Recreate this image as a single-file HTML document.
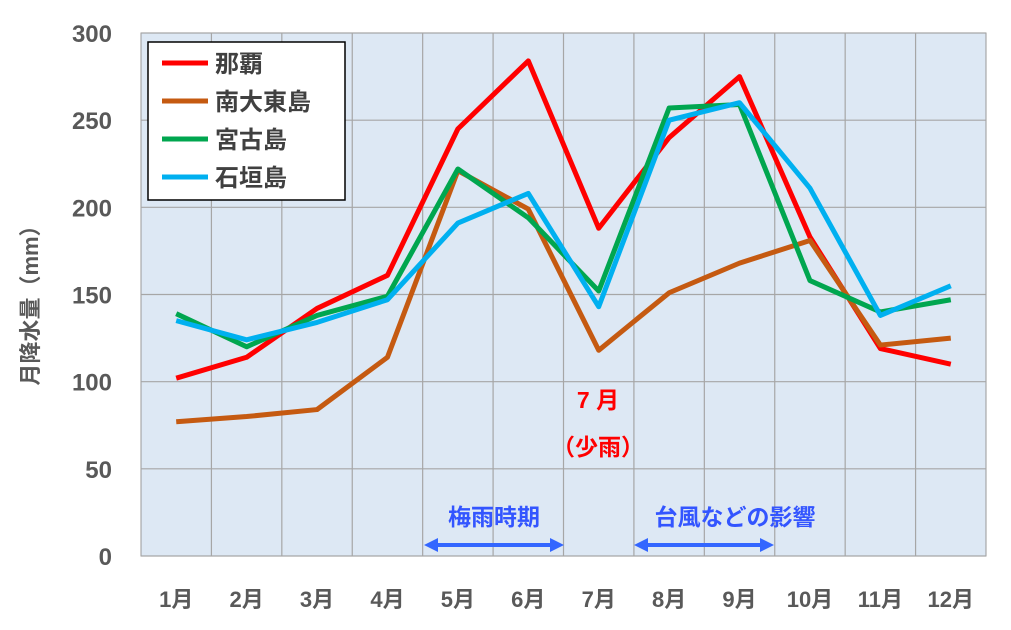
<!DOCTYPE html>
<html><head><meta charset="utf-8"><style>
body{margin:0;background:#fff;width:1011px;height:625px;overflow:hidden}
text{font-family:"Liberation Sans","Noto Sans CJK JP",sans-serif;font-weight:bold}
</style></head><body>
<svg id="c" width="1011" height="625"></svg>
<script>
const months=["1月","2月","3月","4月","5月","6月","7月","8月","9月","10月","11月","12月"];
const yTicks=[0,50,100,150,200,250,300];
const naha=[102,114,142,161,245,284,188,240,275,183,119,110];
const minamidaito=[77,80,84,114,221,199,118,151,168,181,121,125];
const miyako=[139,120,138,149,222,194,152,257,259,158,140,147];
const ishigaki=[135,124,134,147,191,208,143,250,260,211,138,155];
const seriesNames=["那覇","南大東島","宮古島","石垣島"];
const seriesColors=["#ff0000","#c55a11","#00a64f","#00b0f0"];
const seriesData=[naha,minamidaito,miyako,ishigaki];
const L=141,R=986,T=33,B=556;
const bw=(R-L)/months.length;
const x=i=>L+bw*(i+0.5);
const y=v=>B-(v/300)*(B-T);
const NS="http://www.w3.org/2000/svg";
const svg=document.getElementById('c');
function mk(t,a,p){const e=document.createElementNS(NS,t);for(const k in a)e.setAttribute(k,a[k]);(p||svg).appendChild(e);return e;}
const bg=mk('rect',{x:L,y:T,width:R-L,height:B-T,fill:'#dde8f4',stroke:'#999'});


yTicks.forEach(v=>{
 const g=mk('line',{x1:L,x2:R,y1:y(v),y2:y(v),stroke:'#a6a6a6','stroke-width':1.2});
 
 
 const t=mk('text',{x:112,y:y(v)+9,'text-anchor':'end','font-size':24,fill:'#595959'});t.textContent=v;
 
 
});
for(let i=1;i<months.length;i++){
 const g=mk('line',{x1:L+bw*i,x2:L+bw*i,y1:T,y2:B,stroke:'#a6a6a6','stroke-width':1.2});
 
 
}
months.forEach((m,i)=>{
 const t=mk('text',{x:x(i),y:607,'text-anchor':'middle','font-size':22,fill:'#595959'});t.textContent=m;
 
 
});
const yt=mk('text',{x:0,y:0,'font-size':22,fill:'#595959','text-anchor':'middle',transform:'translate(38,300) rotate(-90)'});
yt.textContent='月降水量（mm）';


seriesData.forEach((d,s)=>{
 const p=mk('polyline',{points:d.map((v,i)=>x(i)+','+y(v)).join(' '),fill:'none',stroke:seriesColors[s],'stroke-width':5,'stroke-linejoin':'round'});
 
 
});
const lg=mk('rect',{x:148,y:42,width:197,height:158,fill:'#fff',stroke:'#000','stroke-width':1.5});


seriesNames.forEach((n,s)=>{
 const yy=63+s*38;
 const l=mk('line',{x1:162,x2:208,y1:yy,y2:yy,stroke:seriesColors[s],'stroke-width':5});
 
 
 const t=mk('text',{x:215,y:yy+9,'font-size':24,fill:'#404040'});t.textContent=n;
 
 
});
function ann(txt,xx,yy,col,name){const t=mk('text',{x:xx,y:yy,'text-anchor':'middle','font-size':23,fill:col});t.textContent=txt;
 
 }
ann('7 月',598,408,'#ff0000','july-label');
ann('（少雨）',598,455,'#ff0000','low-rain-label');
ann('梅雨時期',494,525,'#3355ff','rainy-season-label');
ann('台風などの影響',735,525,'#3355ff','typhoon-label');
function arrow(x1,x2,name){
 const g=mk('g',{});
 
 
 mk('line',{x1:x1+10,x2:x2-10,y1:545,y2:545,stroke:'#3366ff','stroke-width':4},g);
 mk('polygon',{points:`${x1},545 ${x1+14},538 ${x1+14},552`,fill:'#3366ff'},g);
 mk('polygon',{points:`${x2},545 ${x2-14},538 ${x2-14},552`,fill:'#3366ff'},g);
}
arrow(424,564,'rainy-season-arrow');
arrow(634,774,'typhoon-arrow');
</script>
</body></html>
